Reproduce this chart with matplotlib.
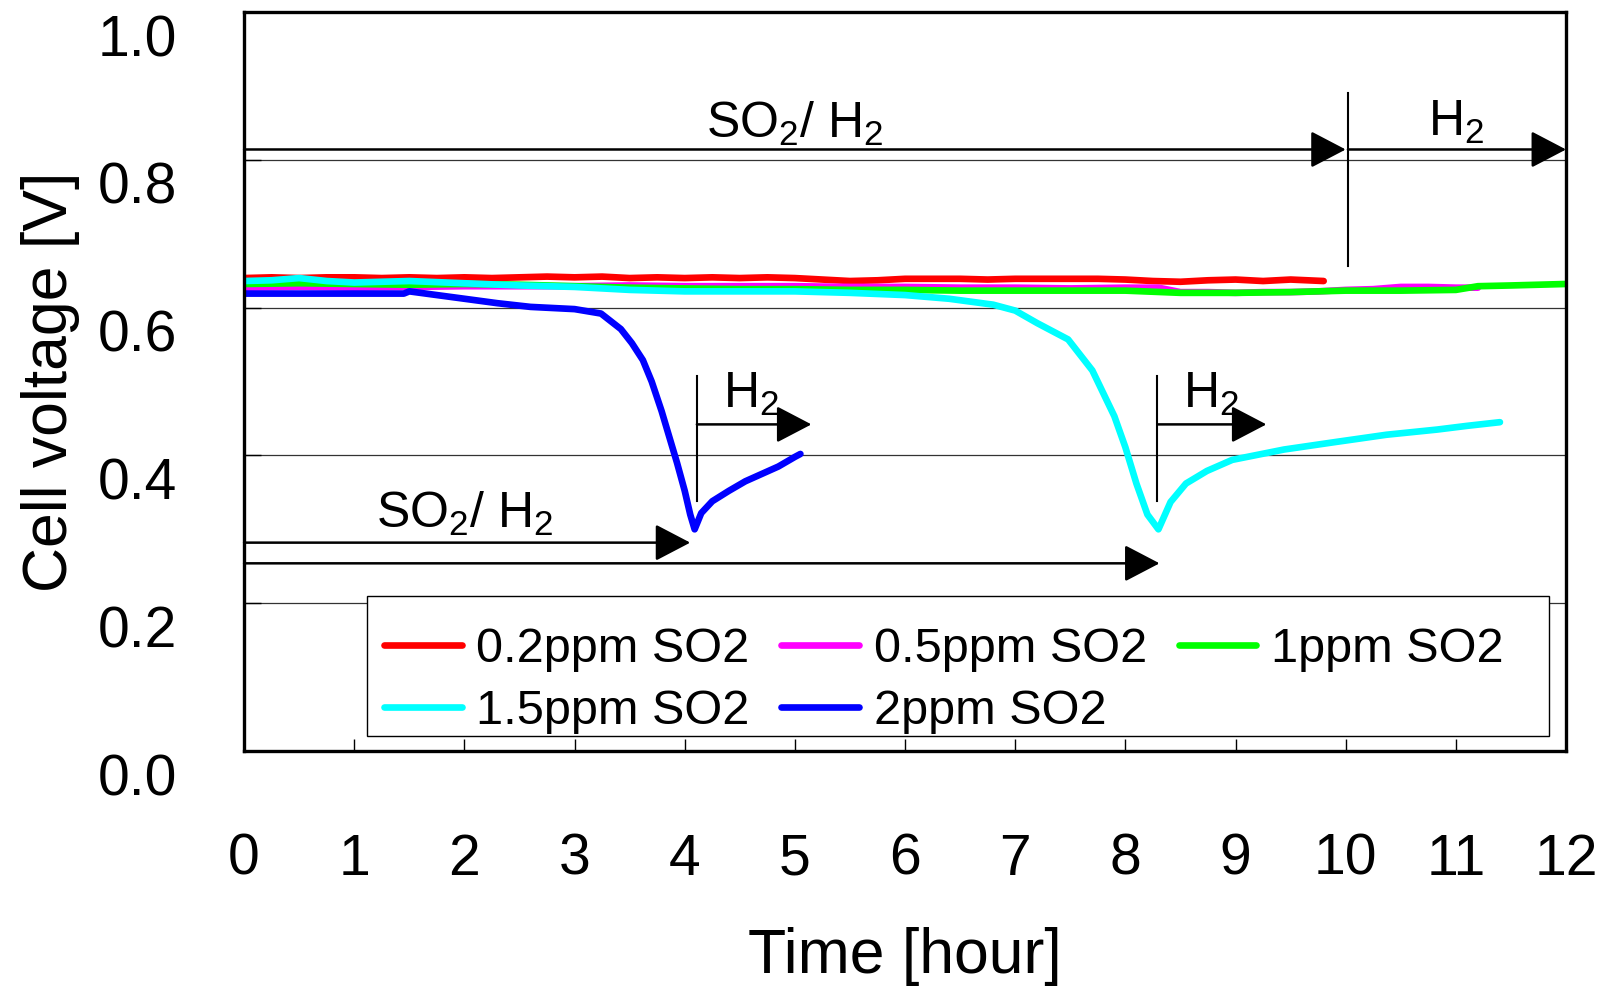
import matplotlib.pyplot as plt
import numpy as np
from matplotlib.patches import Rectangle
from matplotlib.transforms import ScaledTranslation

plt.rcParams['font.family'] = ['Liberation Sans', 'DejaVu Sans']
plt.rcParams['mathtext.fontset'] = 'custom'
plt.rcParams['mathtext.rm'] = 'Liberation Sans'
plt.rcParams['mathtext.default'] = 'regular'

# --- data ---
t_red = [0, 0.25, 0.5, 0.75, 1.0, 1.25, 1.5, 1.75, 2.0, 2.25, 2.5, 2.75, 3.0, 3.25, 3.5, 3.75,
         4.0, 4.25, 4.5, 4.75, 5.0, 5.25, 5.5, 5.75, 6.0, 6.25, 6.5, 6.75, 7.0, 7.25, 7.5, 7.75,
         8.0, 8.25, 8.5, 8.75, 9.0, 9.25, 9.5, 9.8]
v_red = [0.640, 0.641, 0.640, 0.641, 0.641, 0.640, 0.641, 0.640, 0.641, 0.640, 0.641, 0.642,
         0.641, 0.642, 0.640, 0.641, 0.640, 0.641, 0.640, 0.641, 0.640, 0.638, 0.636, 0.637,
         0.639, 0.639, 0.639, 0.638, 0.639, 0.639, 0.639, 0.639, 0.638, 0.636, 0.635, 0.637,
         0.638, 0.636, 0.638, 0.636]

t_mag = [0, 0.5, 1.0, 1.5, 2.0, 2.5, 3.0, 3.5, 4.0, 4.5, 5.0, 5.5, 6.0, 6.5, 7.0, 7.5, 8.0,
         8.3, 8.5, 8.75, 9.0, 9.25, 9.5, 9.75, 10.0, 10.25, 10.5, 10.75, 11.0, 11.2]
v_mag = [0.627, 0.628, 0.627, 0.628, 0.629, 0.629, 0.629, 0.630, 0.629, 0.629, 0.629, 0.628,
         0.628, 0.627, 0.627, 0.626, 0.627, 0.627, 0.621, 0.621, 0.620, 0.621, 0.621, 0.622,
         0.624, 0.625, 0.628, 0.628, 0.627, 0.627]

t_grn = [0, 0.5, 1.0, 1.5, 2.0, 2.5, 3.0, 3.5, 4.0, 4.5, 5.0, 5.5, 6.0, 6.5, 7.0, 7.5, 8.0,
         8.5, 9.0, 9.5, 10.0, 10.5, 11.0, 11.2, 11.5, 12.0]
v_grn = [0.632, 0.633, 0.632, 0.631, 0.632, 0.631, 0.629, 0.627, 0.626, 0.625, 0.625, 0.624,
         0.624, 0.623, 0.623, 0.623, 0.623, 0.620, 0.620, 0.621, 0.623, 0.623, 0.624, 0.629,
         0.630, 0.632]

t_cy = [0, 0.25, 0.5, 0.75, 1.0, 1.5, 2.0, 2.5, 3.0, 3.5, 4.0, 4.5, 5.0, 5.5, 6.0, 6.4, 6.8,
        7.0, 7.2, 7.48, 7.7, 7.9, 8.0, 8.1, 8.2, 8.3, 8.41, 8.55, 8.74, 8.97, 9.44, 9.9,
        10.37, 10.83, 11.1, 11.4]
v_cy = [0.636, 0.637, 0.640, 0.636, 0.634, 0.636, 0.633, 0.630, 0.628, 0.624, 0.622, 0.622,
        0.622, 0.620, 0.617, 0.612, 0.604, 0.596, 0.579, 0.557, 0.515, 0.453, 0.411, 0.362,
        0.320, 0.300, 0.337, 0.362, 0.379, 0.394, 0.408, 0.418, 0.428, 0.435, 0.440, 0.445]

t_blu = [0, 0.5, 1.0, 1.45, 1.5, 1.65, 2.0, 2.3, 2.6, 3.0, 3.24, 3.42, 3.52, 3.62, 3.7, 3.79,
         3.86, 3.93, 4.0, 4.05, 4.09, 4.15, 4.25, 4.4, 4.55, 4.7, 4.85, 5.0, 5.05]
v_blu = [0.619, 0.619, 0.619, 0.619, 0.622, 0.619, 0.612, 0.606, 0.601, 0.598, 0.592, 0.571,
         0.552, 0.529, 0.500, 0.460, 0.425, 0.390, 0.352, 0.320, 0.300, 0.322, 0.338, 0.352,
         0.365, 0.375, 0.385, 0.398, 0.402]

labels = ['0.2ppm SO2', '0.5ppm SO2', '1ppm SO2', '1.5ppm SO2', '2ppm SO2']
colors = ['#ff0000', '#ff00ff', '#00ff00', '#00ffff', '#0000ff']
x_ticks = list(range(0, 13))
y_ticks = [0.0, 0.2, 0.4, 0.6, 0.8, 1.0]

fig = plt.figure(figsize=(16.1, 9.86), dpi=100)
ax = fig.add_axes([0.1516, 0.2383, 0.8211, 0.7495])

series = [(t_red, v_red), (t_mag, v_mag), (t_grn, v_grn), (t_cy, v_cy), (t_blu, v_blu)]
lines = []
for (t, v), lab, c in zip(series, labels, colors):
    ln, = ax.plot(t, v, color=c, lw=4.8, label=lab, solid_capstyle='round',
                  solid_joinstyle='round')
    lines.append(ln)

ax.set_xlim(0, 12)
ax.set_ylim(0, 1.0)
ax.set_xticks(x_ticks)
ax.set_yticks(y_ticks)
ax.set_yticklabels(['%.1f' % y for y in y_ticks])
for y in y_ticks[1:-1]:
    ax.axhline(y, color='#333333', lw=0.9, zorder=0)

for s in ax.spines.values():
    s.set_linewidth(2.4)
ax.tick_params(axis='x', direction='in', length=9, width=1, labelsize=41, pad=59)
ax.tick_params(axis='y', direction='in', length=12, width=1, labelsize=41, pad=48)
shift = ScaledTranslation(0, -0.23, fig.dpi_scale_trans)
for lbl in ax.get_yticklabels():
    lbl.set_transform(lbl.get_transform() + shift)

ax.set_xlabel('Time [hour]', fontsize=45)
ax.set_ylabel('Cell voltage [V]', fontsize=45)
ax.xaxis.set_label_coords(0.5, -0.238)
ax.yaxis.set_label_coords(-0.124, 0.5)

# --- gas-switch arrows ---
arrow = dict(arrowstyle='-|>,head_length=2.2,head_width=1.15', color='black', lw=1.8,
             shrinkA=0, shrinkB=0, mutation_scale=10)
ax.annotate('', xy=(10.0, 0.814), xytext=(0, 0.814), arrowprops=arrow)
ax.annotate('', xy=(12.0, 0.814), xytext=(10.02, 0.814), arrowprops=arrow)
ax.plot([10.02, 10.02], [0.657, 0.89], color='black', lw=1.5)
ax.annotate('', xy=(4.05, 0.282), xytext=(0, 0.282), arrowprops=arrow)
ax.annotate('', xy=(8.31, 0.254), xytext=(0, 0.254), arrowprops=arrow)
for xv, xe in [(4.11, 5.15), (8.29, 9.28)]:
    ax.plot([xv, xv], [0.339, 0.508], color='black', lw=1.5)
    ax.annotate('', xy=(xe, 0.442), xytext=(xv, 0.442), arrowprops=arrow)

ax.text(5.0, 0.849, r'SO$_2$/ H$_2$', fontsize=36, ha='center', va='center')
ax.text(11.0, 0.851, r'H$_2$', fontsize=36, ha='center', va='center')
ax.text(2.0, 0.321, r'SO$_2$/ H$_2$', fontsize=36, ha='center', va='center')
ax.text(4.6, 0.483, r'H$_2$', fontsize=36, ha='center', va='center')
ax.text(8.78, 0.483, r'H$_2$', fontsize=36, ha='center', va='center')

# legend box drawn separately; entries sit low so the second row is cut by the frame
frame = Rectangle((0.0927, 0.020), 0.8941, 0.190, transform=ax.transAxes,
                  facecolor='white', edgecolor='black', lw=1.0, zorder=4.5)
ax.add_patch(frame)
order = [0, 3, 1, 4, 2]   # filled row by row in the reference
leg = ax.legend([lines[i] for i in order], [labels[i] for i in order],
                ncol=3, loc='upper left', bbox_to_anchor=(0.1059, 0.1676),
                fontsize=35, frameon=False, handlelength=1.6, handletextpad=0.3,
                borderpad=0, labelspacing=0.35, columnspacing=0.65, borderaxespad=0)
for txt in leg.get_texts():
    txt.set_clip_path(frame)

fig.savefig('out.png', dpi=100)
